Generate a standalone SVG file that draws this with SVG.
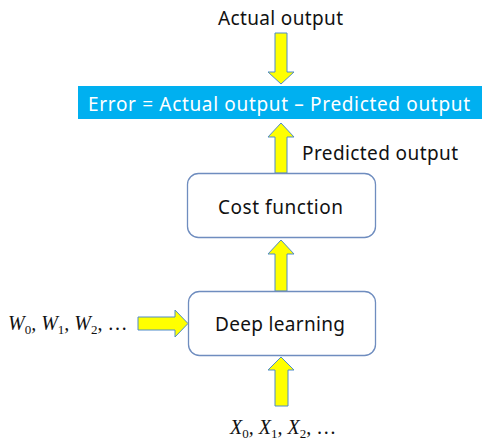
<svg xmlns="http://www.w3.org/2000/svg" width="482" height="441" viewBox="0 0 482 441">
<style>
.t{font-family:"Noto Sans","Liberation Sans",sans-serif;font-size:19px;fill:#111;}
.m{font-family:"Liberation Serif","DejaVu Serif",serif;font-size:20px;font-style:italic;fill:#111;}
.s{font-size:13px;font-style:normal;}
.arrow{fill:#FFFF00;stroke:#4F8BC9;stroke-width:1;}
.box{fill:#fff;stroke:#6F8DBF;stroke-width:1.3;}
</style>
<rect width="482" height="441" fill="#fff"/>
<g id="connectors">
<polygon class="arrow" points="275,33 287,33 287,72 294,72 281,84 268,72 275,72"/>
<polygon class="arrow" points="281,123 294,137 287,137 287,173 275,173 275,137 268,137"/>
<polygon class="arrow" points="281,240 294,254 287,254 287,291 275,291 275,254 268,254"/>
<polygon class="arrow" points="281,357 294,370 288,370 288,406 275,406 275,370 268,370"/>
<polygon class="arrow" points="138,317 175,317 175,310 188,323.5 175,337 175,330 138,330"/>
</g>
<g id="actual">
<text class="t" x="218" y="25" textLength="125" lengthAdjust="spacing">Actual output</text>
</g>
<g id="error">
<rect x="78" y="86" width="404" height="33" fill="#00B0F0"/>
<text class="t" x="88" y="110.5" textLength="382" lengthAdjust="spacing" style="fill:#fff">Error = Actual output – Predicted output</text>
</g>
<g id="predicted">
<text class="t" x="302" y="160" textLength="156" lengthAdjust="spacing">Predicted output</text>
</g>
<g id="cost">
<rect class="box" x="187.5" y="173.5" width="188" height="64" rx="11"/>
<text class="t" x="218" y="214" textLength="125" lengthAdjust="spacing">Cost function</text>
</g>
<g id="deep">
<rect class="box" x="188.5" y="291.5" width="187" height="64" rx="11"/>
<text class="t" x="215" y="331" textLength="130" lengthAdjust="spacing">Deep learning</text>
</g>
<g id="weights">
<text class="m" x="8" y="330">W<tspan class="s" dy="4">0</tspan><tspan dy="-4">, W</tspan><tspan class="s" dy="4">1</tspan><tspan dy="-4">, W</tspan><tspan class="s" dy="4">2</tspan><tspan dy="-4" style="font-style:normal">, …</tspan></text>
</g>
<g id="inputs">
<text class="m" x="230" y="434">X<tspan class="s" dy="4">0</tspan><tspan dy="-4">, X</tspan><tspan class="s" dy="4">1</tspan><tspan dy="-4">, X</tspan><tspan class="s" dy="4">2</tspan><tspan dy="-4" style="font-style:normal">, …</tspan></text>
</g>
</svg>
